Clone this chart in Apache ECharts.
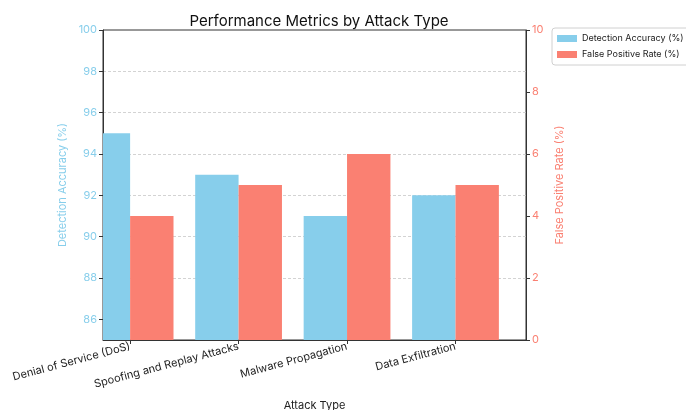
<!DOCTYPE html>
<html><head><meta charset="utf-8">
<script src="https://cdn.jsdelivr.net/npm/echarts@6/dist/echarts.min.js"></script>
<style>html,body{margin:0;padding:0;background:#fff}#c{width:686px;height:410px}</style>
</head><body><div id="c"></div>
<script>
const categories = ['Denial of Service (DoS)', 'Spoofing and Replay Attacks', 'Malware Propagation', 'Data Exfiltration'];
const detectionAccuracy = [95, 93, 91, 92];
const falsePositiveRate = [4, 5, 6, 5];
const leftTicks = [86, 88, 90, 92, 94, 96, 98, 100];
const rightTicks = [0, 2, 4, 6, 8, 10];
const catPositions = categories.map((c, i) => i);

const FONT = 'Inter';
const BAR_W = 0.4;      // bar width in category units
const LEFT_MIN = 85, LEFT_MAX = 100, RIGHT_MIN = 0, RIGHT_MAX = 10;

function barRenderer(side, baseValue) {
  return function (params, api) {
    const x = api.value(0), v = api.value(1);
    const x0 = side < 0 ? x - BAR_W : x;
    const p0 = api.coord([x0, baseValue]);
    const p1 = api.coord([x0 + BAR_W, v]);
    const rect = { x: p0[0], y: p1[1], width: p1[0] - p0[0], height: p0[1] - p1[1] };
    const cs = params.coordSys;
    const clipped = echarts.graphic.clipRectByRect(rect, { x: cs.x, y: cs.y, width: cs.width, height: cs.height });
    return clipped && { type: 'rect', shape: clipped, style: { fill: api.visual('color') } };
  };
}

const chart = echarts.init(document.getElementById('c'));
chart.setOption({
  animation: false,
  textStyle: { fontFamily: FONT },
  title: {
    text: 'Performance Metrics by Attack Type',
    left: 314, top: 9, textAlign: 'center',
    textStyle: { fontFamily: FONT, fontSize: 15, fontWeight: 'normal', color: '#111' }
  },
  legend: {
    orient: 'vertical', left: 552, top: 28, icon: 'rect',
    itemWidth: 20, itemHeight: 7, itemGap: 7,
    padding: [6, 6, 6, 5],
    borderColor: '#d0d0d0', borderWidth: 1, borderRadius: 3,
    textStyle: { fontFamily: FONT, fontSize: 9, color: '#222' },
    data: ['Detection Accuracy (%)', 'False Positive Rate (%)']
  },
  grid: { left: 103, right: 160, top: 30, bottom: 70, outerBoundsMode: 'none', containLabel: false,
    show: true, borderColor: '#333', borderWidth: 1, backgroundColor: 'transparent' },
  xAxis: {
    type: 'value', min: -0.25, max: 3.65,
    name: 'Attack Type', nameLocation: 'middle', nameGap: 60,
    nameTextStyle: { fontFamily: FONT, fontSize: 11, color: '#222' },
    axisLine: { show: true, onZero: false, lineStyle: { color: '#333' } },
    axisTick: { show: true, customValues: catPositions, length: 4, lineStyle: { color: '#333' } },
    axisLabel: { customValues: catPositions, rotate: 15, margin: 6, fontFamily: FONT, fontSize: 11, color: '#222',
      formatter: v => categories[Math.round(v)] },
    splitLine: { show: false }
  },
  yAxis: [
    {
      type: 'value', min: LEFT_MIN, max: LEFT_MAX, position: 'left',
      name: 'Detection Accuracy (%)', nameLocation: 'middle', nameGap: 31,
      nameTextStyle: { fontFamily: FONT, fontSize: 11, color: '#87CEEB' },
      axisLine: { show: true, onZero: false, lineStyle: { color: '#333' } },
      axisTick: { show: true, customValues: leftTicks, length: 4, lineStyle: { color: '#333' } },
      axisLabel: { customValues: leftTicks, margin: 6, fontFamily: FONT, fontSize: 11, color: '#87CEEB' },
      splitLine: { show: true, showMaxLine: false, showMinLine: false, lineStyle: { color: '#c8c8c8', type: [3, 2], width: 0.8 } }
    },
    {
      type: 'value', min: RIGHT_MIN, max: RIGHT_MAX, interval: 2, position: 'right',
      name: 'False Positive Rate (%)', nameLocation: 'middle', nameGap: 23,
      nameTextStyle: { fontFamily: FONT, fontSize: 11, color: '#FA8072' },
      axisLine: { show: true, onZero: false, lineStyle: { color: '#333' } },
      axisTick: { show: true, length: 4, lineStyle: { color: '#333' } },
      axisLabel: { margin: 6, fontFamily: FONT, fontSize: 11, color: '#FA8072' },
      splitLine: { show: false }
    }
  ],
  series: [
    {
      name: 'Detection Accuracy (%)', type: 'custom', yAxisIndex: 0, z: 2,
      itemStyle: { color: '#87CEEB' },
      renderItem: barRenderer(-1, LEFT_MIN),
      encode: { x: 0, y: 1 },
      data: detectionAccuracy.map((v, i) => [catPositions[i], v])
    },
    {
      name: 'False Positive Rate (%)', type: 'custom', yAxisIndex: 1, z: 2,
      itemStyle: { color: '#FA8072' },
      renderItem: barRenderer(1, RIGHT_MIN),
      encode: { x: 0, y: 1 },
      data: falsePositiveRate.map((v, i) => [catPositions[i], v])
    }
  ]
});
</script></body></html>
